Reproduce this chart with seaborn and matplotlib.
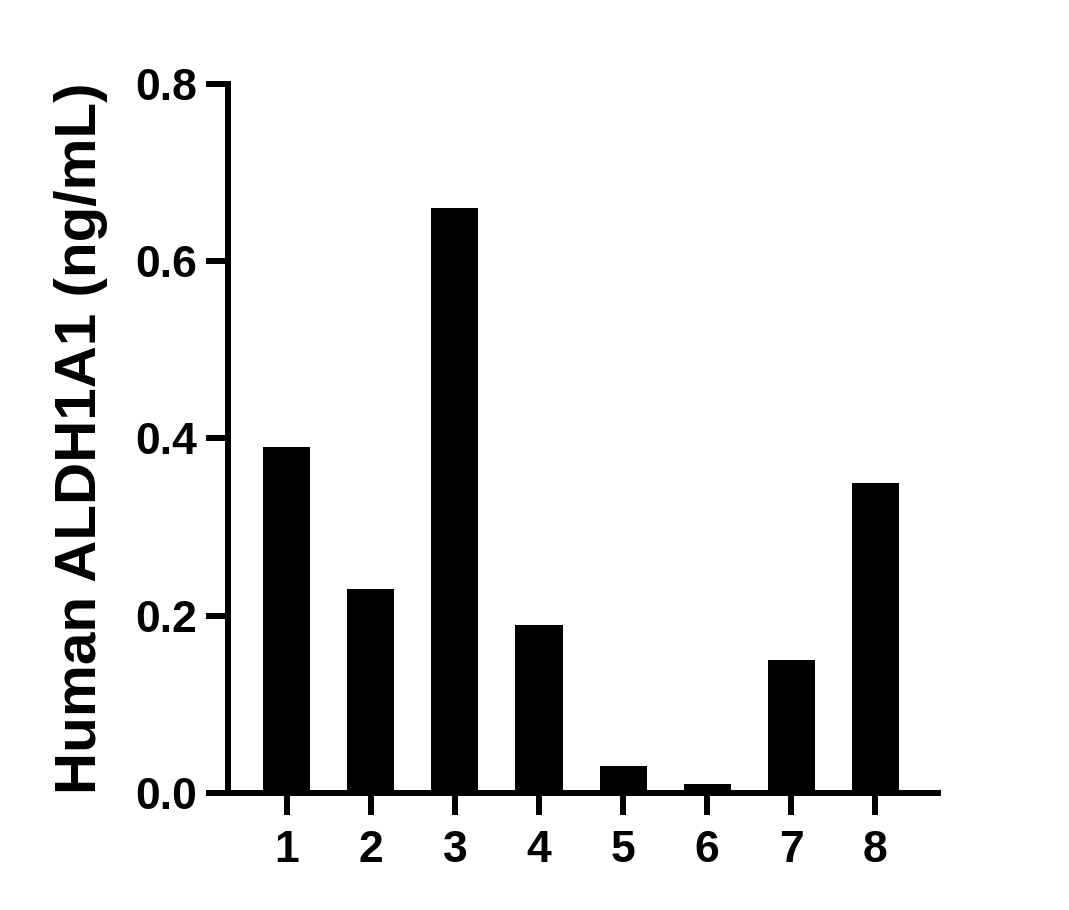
import pandas as pd
import matplotlib
matplotlib.use("Agg")
import matplotlib.pyplot as plt
import seaborn as sns

# Valores
samples = ["1", "2", "3", "4", "5", "6", "7", "8"]
values = [0.39, 0.23, 0.66, 0.19, 0.03, 0.01, 0.15, 0.35]
y_ticks = [0.0, 0.2, 0.4, 0.6, 0.8]

df = pd.DataFrame({"sample": samples, "value": values})

sns.set_style("ticks")
plt.rcParams['font.family'] = ['Liberation Sans', 'DejaVu Sans']
plt.rcParams['font.weight'] = 'bold'
plt.rcParams['text.color'] = 'black'
plt.rcParams['axes.labelcolor'] = 'black'
plt.rcParams['xtick.color'] = 'black'
plt.rcParams['ytick.color'] = 'black'

fig = plt.figure(figsize=(10.69, 9.10), dpi=100)
ax = fig.add_axes([0.2133, 0.1286, 0.6644, 0.7791])

sns.barplot(data=df, x="sample", y="value", color="black", width=0.56,
            saturation=1, ax=ax, edgecolor="black", linewidth=0)

ax.set_xlim(-0.70, 7.75)
ax.set_ylim(0, 0.8)
ax.set_yticks(y_ticks)
ax.set_yticklabels([f"{t:.1f}" for t in y_ticks])

for side in ["top", "right"]:
    ax.spines[side].set_visible(False)
for side in ["left", "bottom"]:
    ax.spines[side].set_linewidth(4.3)
    ax.spines[side].set_color("black")

ax.tick_params(axis="both", width=4.3, length=16, color="black",
               labelcolor="black", labelsize=32)
ax.tick_params(axis="y", pad=6)
ax.tick_params(axis="x", pad=11)
for lab in ax.get_xticklabels() + ax.get_yticklabels():
    lab.set_fontweight("bold")

ax.set_xlabel("")
ax.set_ylabel("Human ALDH1A1 (ng/mL)", fontsize=42, fontweight="bold",
              color="black", labelpad=20)

fig.savefig("out.png", dpi=100)
